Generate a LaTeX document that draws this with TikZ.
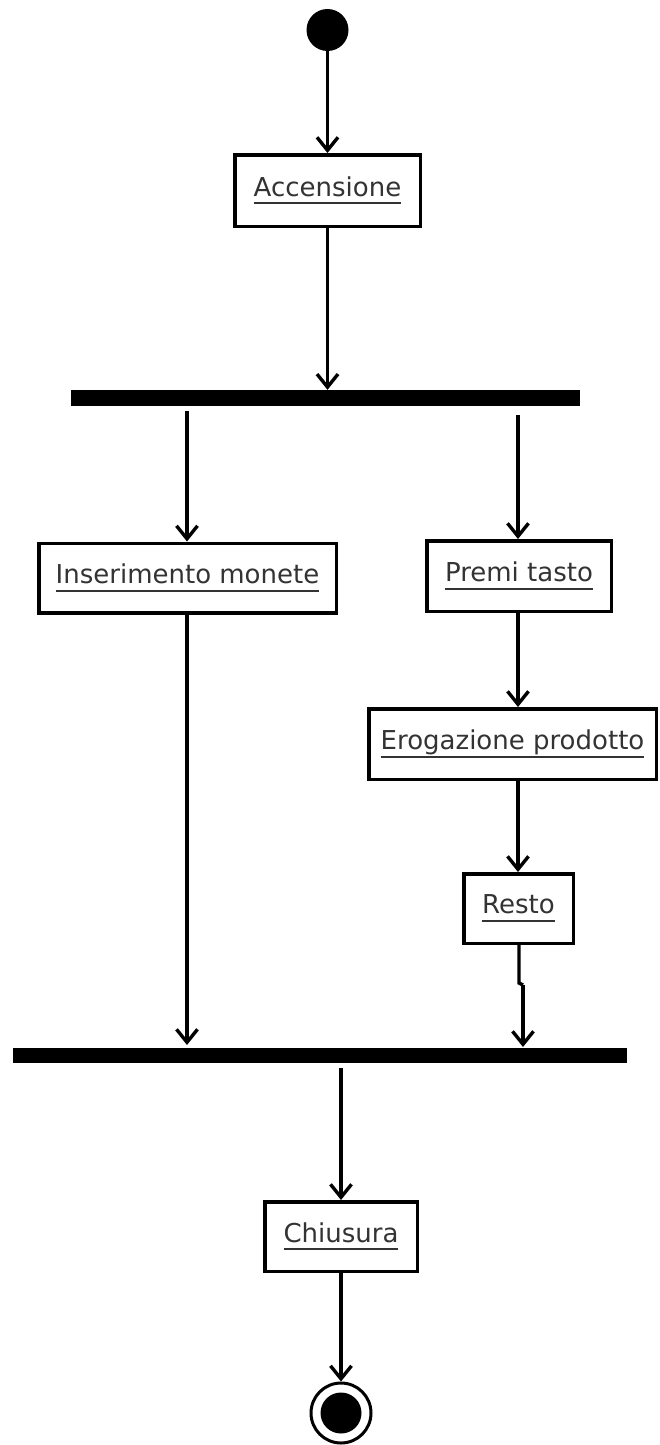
\documentclass[tikz,border=0pt]{standalone}
\usepackage{fontspec}
\setmainfont{DejaVu Sans}
\usetikzlibrary{arrows.meta}
\definecolor{txtgray}{HTML}{333333}
\newcommand\ulabel[1]{\setbox0\hbox{#1}\rlap{\color{txtgray}\rule[-8pt]{\wd0}{2pt}}\box0}
\tikzset{
  actbox/.style={draw=black, line width=3.5pt, fill=white, rectangle, inner sep=0pt,
    font=\fontsize{26}{31}\selectfont, text=txtgray},
  forkbar/.style={fill=black, draw=none},
  flow/.style={line width=3.4pt, -{Straight Barb[length=13pt,width=21pt,line width=3.4pt]}},
  plainline/.style={line width=3.4pt}
}
\begin{document}
\begin{tikzpicture}[x=1pt,y=-1pt]
\useasboundingbox (0,0) rectangle (660,1445);
% initial node
\node[circle, fill=black, minimum size=42pt, inner sep=0pt] (start) at (327.5,30) {};
% actions
\node[actbox, minimum width=185.5pt, minimum height=71.5pt] (acc) at (327.5,190.5) {\ulabel{Accensione}};
\node[actbox, minimum width=297.5pt, minimum height=69.5pt] (ins) at (187.5,578) {\ulabel{Inserimento monete}};
\node[actbox, minimum width=184.5pt, minimum height=70.5pt] (pre) at (519,576) {\ulabel{Premi tasto}};
\node[actbox, minimum width=287.5pt, minimum height=70.5pt] (ero) at (512.5,744) {\ulabel{Erogazione prodotto}};
\node[actbox, minimum width=109.5pt, minimum height=69.5pt] (res) at (518.5,908.5) {\ulabel{Resto}};
\node[actbox, minimum width=152.5pt, minimum height=69.5pt] (chi) at (341,1236.5) {\ulabel{Chiusura}};
% fork / join bars
\node[forkbar, minimum width=509pt, minimum height=16pt, inner sep=0pt] (fork) at (325.5,398) {};
\node[forkbar, minimum width=614pt, minimum height=15pt, inner sep=0pt] (join) at (320,1055) {};
% final node
\node[circle, draw=black, line width=3pt, fill=white, minimum size=60pt, inner sep=0pt] (final) at (341,1413) {};
\node[circle, fill=black, minimum size=41pt, inner sep=0pt] (finalin) at (final.center) {};
% coordinates for connector ends
\coordinate (f1) at (187,411);
\coordinate (f2) at (518,415);
\coordinate (j1) at (187,1045);
\coordinate (j2top) at (519,983);
\coordinate (j2a) at (523,985);
\coordinate (j2) at (523,1047);
\coordinate (jout) at (341,1068);
% connectors
\draw[flow] (start.south) -- (acc.north);
\draw[flow] (acc.south) -- (acc.south |- fork.north);
\draw[flow] (f1) -- (f1 |- ins.north);
\draw[flow] (f2) -- (f2 |- pre.north);
\draw[flow] (ins.south -| f1) -- (j1);
\draw[flow] (pre.south -| f2) -- (f2 |- ero.north);
\draw[flow] (ero.south -| f2) -- (f2 |- res.north);
\draw[plainline] (res.south -| j2top) -- (j2top) -- (j2a);
\draw[flow] (j2a) -- (j2);
\draw[flow] (jout) -- (chi.north);
\draw[flow] (chi.south) -- (final.north);
\end{tikzpicture}
\end{document}
